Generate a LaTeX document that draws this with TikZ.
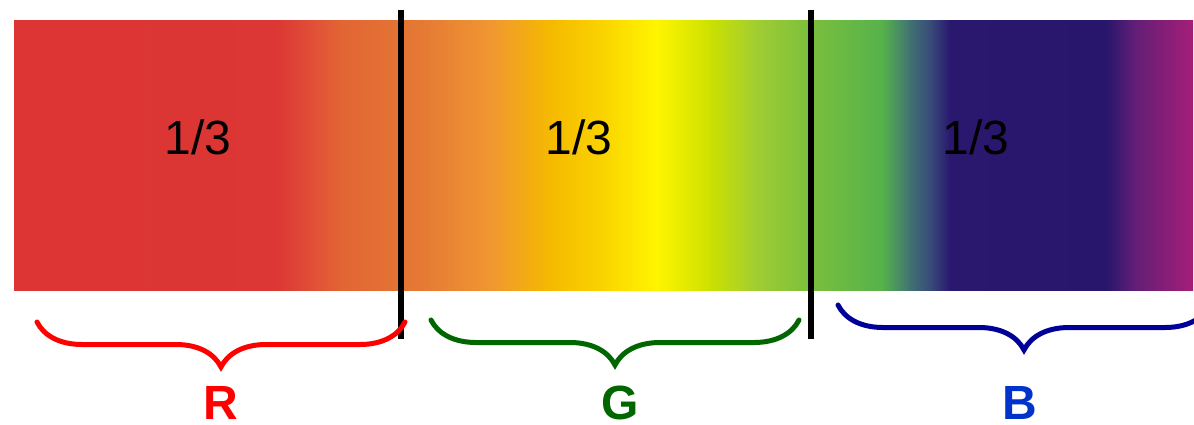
\documentclass[tikz,border=0pt]{standalone}
\usepackage{fontspec}
\setmainfont{Liberation Sans}
\usetikzlibrary{decorations.pathreplacing}
\definecolor{bracered}{RGB}{255,0,0}
\definecolor{bracegreen}{RGB}{0,102,0}
\definecolor{braceblue}{RGB}{0,0,153}
\definecolor{labelblue}{RGB}{0,51,204}
% spectrum stops
\definecolor{s1}{RGB}{221,52,52}
\definecolor{s2}{RGB}{220,55,52}
\definecolor{s3}{RGB}{225,82,55}
\definecolor{s4}{RGB}{226,100,52}
\definecolor{s5}{RGB}{229,122,52}
\definecolor{s6}{RGB}{240,150,50}
\definecolor{s7}{RGB}{245,185,0}
\definecolor{s8}{RGB}{250,214,0}
\definecolor{s9}{RGB}{255,245,0}
\definecolor{s10}{RGB}{205,225,0}
\definecolor{s11}{RGB}{160,205,50}
\definecolor{s12}{RGB}{125,192,60}
\definecolor{s13}{RGB}{85,178,75}
\definecolor{s14}{RGB}{65,115,115}
\definecolor{s15}{RGB}{55,70,120}
\definecolor{s16}{RGB}{42,24,110}
\definecolor{s17}{RGB}{40,22,108}
\definecolor{s18}{RGB}{95,30,118}
\definecolor{s19}{RGB}{165,30,120}

\begin{document}
\begin{tikzpicture}[
    x=1pt, y=-1pt,
    third/.style={font=\fontsize{48}{52}\selectfont, text=black, anchor=base},
    band/.style={font=\bfseries\fontsize{48}{52}\selectfont, anchor=base, inner sep=0pt},
    brace/.style={decorate, decoration={brace, mirror, amplitude=45pt}, line width=5pt, line cap=round},
    divider/.style={line width=5.5pt, black}
]
\useasboundingbox (0,0) rectangle (1194,424);

% Spectrum bar
\foreach \xa/\xb/\ca/\cb in {14/278/s1/s2, 277/317/s2/s3, 316/340/s3/s4, 339/423/s4/s5,
    422/490/s5/s6, 489/550/s6/s7, 549/607/s7/s8, 606/657/s8/s9, 656/710/s9/s10,
    709/757/s10/s11, 756/807/s11/s12, 806/883/s12/s13, 882/910/s13/s14, 909/933/s14/s15,
    932/950/s15/s16, 949/1107/s16/s17, 1106/1133/s17/s18, 1132/1193/s18/s19}
  \shade[left color=\ca, right color=\cb] (\xa,20) rectangle (\xb,290);

% Thirds
\node[third] (thirdR) at (198,154) {1/3};
\node[third] (thirdG) at (579,154) {1/3};
\node[third] (thirdB) at (976,154) {1/3};

% Dividers
\coordinate (div1top) at (401,10);
\coordinate (div1bot) at (401,339);
\coordinate (div2top) at (811,10);
\coordinate (div2bot) at (811,339);
\draw[divider] (div1top) -- (div1bot);
\draw[divider] (div2top) -- (div2bot);

% Braces
\coordinate (braceRa) at (37,322);
\coordinate (braceRb) at (405,322);
\coordinate (braceGa) at (431,320);
\coordinate (braceGb) at (799,320);
\coordinate (braceBa) at (838,305);
\coordinate (braceBb) at (1210,305);
\draw[brace, bracered] (braceRa) -- (braceRb);
\draw[brace, bracegreen] (braceGa) -- (braceGb);
\draw[brace, braceblue] (braceBa) -- (braceBb);

% Channel labels
\node[band, text=bracered] (labR) at (221,419) {R};
\node[band, text=bracegreen] (labG) at (620,419) {G};
\node[band, text=labelblue] (labB) at (1020,419) {B};
\end{tikzpicture}
\end{document}
